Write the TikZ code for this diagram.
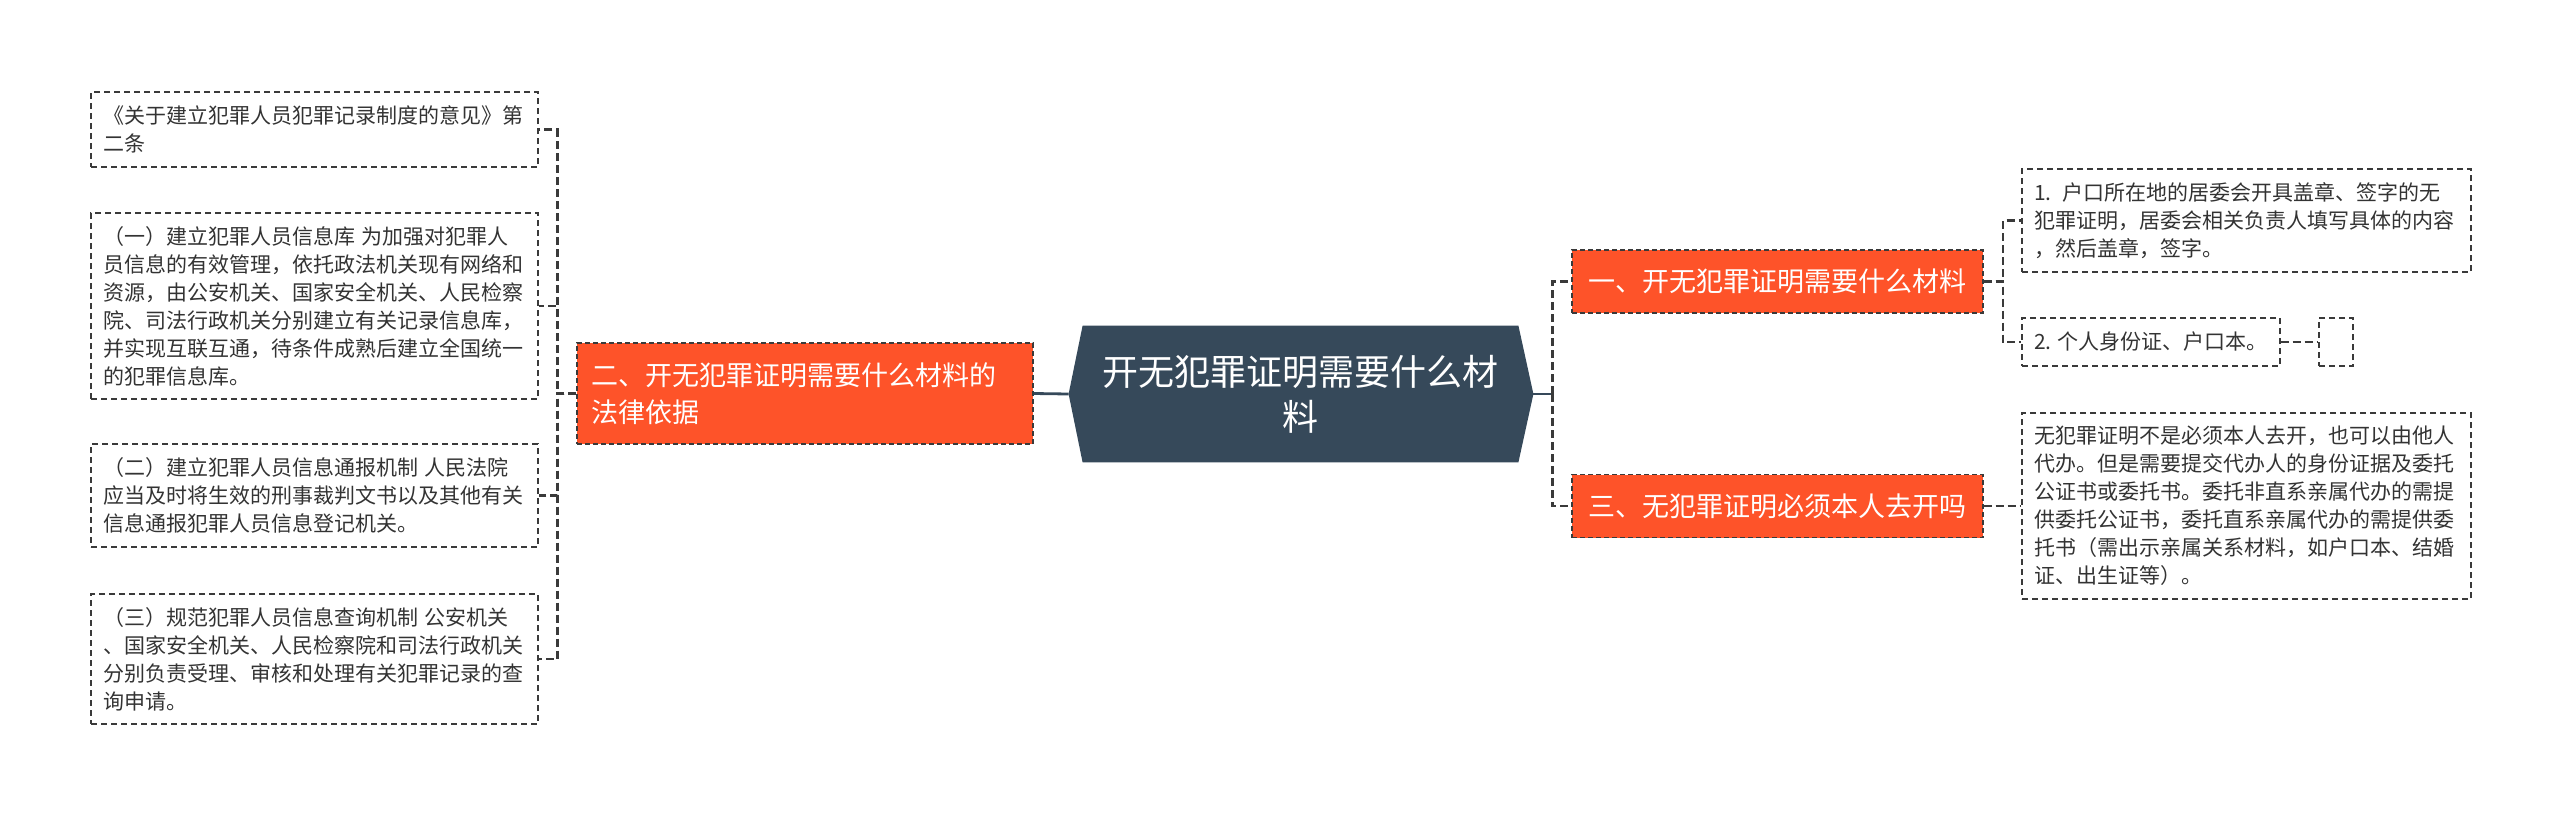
\documentclass[tikz,border=0pt]{standalone}
\usepackage{fontspec}
\setmainfont{Noto Sans CJK SC}
\usetikzlibrary{positioning,backgrounds,calc}
\definecolor{rootcol}{HTML}{36495A}
\definecolor{topiccol}{HTML}{FE5329}
\definecolor{linecol}{HTML}{3A3A3A}
\definecolor{leaftext}{HTML}{333333}

\tikzset{
  leaf/.style={draw=linecol,dash pattern=on 3pt off 2pt,line width=0.7pt,
    font=\fontsize{10.5}{14}\selectfont,text=leaftext,align=left,
    inner xsep=6pt,inner ysep=0pt},
  topic/.style={fill=topiccol,draw=linecol,dash pattern=on 2.5pt off 1.5pt,
    line width=0.6pt,text=white,font=\fontsize{13.5}{18.5}\selectfont,
    inner xsep=7pt,inner ysep=0pt},
  link/.style={draw=linecol,line width=1.1pt,dash pattern=on 4pt off 2pt},
  rootlink/.style={draw=rootcol,line width=1.4pt}
}

\begin{document}
\begin{tikzpicture}[x=0.5pt,y=-0.5pt]
  \useasboundingbox (0,0) rectangle (2560,815);

  % centre
  \node[text=white,font=\fontsize{18}{22.5}\selectfont,align=center,
        minimum width=217.5pt,minimum height=68pt,inner sep=0pt] (root) at (1300.5,394)
        {开无犯罪证明需要什么材\\料};
  \begin{scope}[on background layer]
    \fill[rootcol] (root.north west) -- (root.north east)
      -- ([xshift=7.5pt]root.east) coordinate (rtip)
      -- (root.south east) -- (root.south west)
      -- ([xshift=-7pt]root.west) coordinate (ltip) -- cycle;
  \end{scope}

  % main topics
  \node[topic,text width=214pt,align=left,minimum height=50.5pt] (basis) at (805,393.5)
    {二、开无犯罪证明需要什么材料的\\法律依据};
  \node[topic,minimum width=205.5pt,minimum height=31.5pt] (need) at (1777.5,281.5)
    {一、开无犯罪证明需要什么材料};
  \node[topic,minimum width=205.5pt,minimum height=31.5pt] (self) at (1777.5,506)
    {三、无犯罪证明必须本人去开吗};

  \draw[rootlink] (ltip) -- (basis.east);
  \draw[rootlink] (rtip) -- ++(19,0) coordinate (rhub);
  \draw[link] (rhub) |- (need.west);
  \draw[link] (rhub) |- (self.west);

  % left leaves
  \foreach \nm/\y/\h/\txt in {
      law1/129.5/75/{《关于建立犯罪人员犯罪记录制度的意见》第\\二条},
      law2/306/186/{（一）建立犯罪人员信息库 为加强对犯罪人\\员信息的有效管理，依托政法机关现有网络和\\资源，由公安机关、国家安全机关、人民检察\\院、司法行政机关分别建立有关记录信息库，\\并实现互联互通，待条件成熟后建立全国统一\\的犯罪信息库。},
      law3/495.5/103/{（二）建立犯罪人员信息通报机制 人民法院\\应当及时将生效的刑事裁判文书以及其他有关\\信息通报犯罪人员信息登记机关。},
      law4/659/130/{（三）规范犯罪人员信息查询机制 公安机关\\、国家安全机关、人民检察院和司法行政机关\\分别负责受理、审核和处理有关犯罪记录的查\\询申请。}} {
    \node[leaf,text width=211.5pt,minimum height=\h*0.5pt] (\nm) at (314.5,\y) {\txt};
    \draw[link] (basis.west) -- ++(-19,0) |- (\nm.east);
  }

  % right leaves
  \node[leaf,text width=212.5pt,minimum height=51.5pt] (need1) at (2246.5,220.5)
    {1. 户口所在地的居委会开具盖章、签字的无\\犯罪证明，居委会相关负责人填写具体的内容\\，然后盖章，签字。};
  \node[leaf,minimum width=129pt,minimum height=24pt] (need2) at (2151,342)
    {2. 个人身份证、户口本。};
  \node[leaf,minimum width=17pt,minimum height=24pt,inner sep=0pt] (needx) at (2336,342) {};
  \node[leaf,text width=212.5pt,minimum height=93pt] (self1) at (2246.5,506)
    {无犯罪证明不是必须本人去开，也可以由他人\\代办。但是需要提交代办人的身份证据及委托\\公证书或委托书。委托非直系亲属代办的需提\\供委托公证书，委托直系亲属代办的需提供委\\托书（需出示亲属关系材料，如户口本、结婚\\证、出生证等）。};

  \draw[link] (need.east) -- ++(19,0) |- (need1.west);
  \draw[link] (need.east) -- ++(19,0) |- (need2.west);
  \draw[link] (need2.east) -- (needx.west);
  \draw[link] (self.east) -- (self1.west);
\end{tikzpicture}
\end{document}
